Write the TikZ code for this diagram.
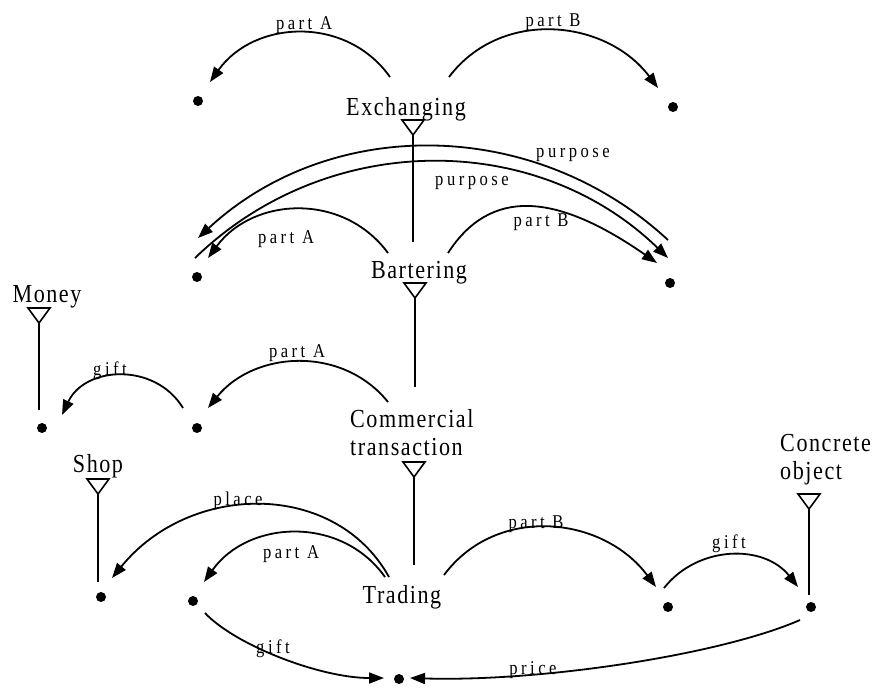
\documentclass[tikz,border=0pt]{standalone}
\usepackage{fontspec}
\setmainfont{Liberation Serif}
\newfontfamily\bigfont[LetterSpace=6,FakeStretch=0.85]{Liberation Serif}
\newfontfamily\smallfont[LetterSpace=18,FakeStretch=0.85]{Liberation Serif}
\usetikzlibrary{arrows.meta}
\begin{document}
\begin{tikzpicture}[x=1pt,y=-1pt,
  big/.style={font=\bigfont\fontsize{26}{28}\selectfont, inner sep=0pt, anchor=base},
  small/.style={font=\smallfont\fontsize{19.5}{22}\selectfont, inner sep=0pt, anchor=base},
  dot/.style={circle, fill=black, inner sep=0pt, minimum size=10pt},
  rel/.style={line width=1.8pt, -{Triangle[length=15pt,width=11pt]}},
  isa/.style={line width=1.6pt},
  tri/.style={line width=1.6pt, line join=miter},
]
\useasboundingbox (0,0) rectangle (877,688);

% concept labels
\node[big] (exch) at (406,115) {Exchanging};
\node[big] (bart) at (419,278) {Bartering};
\node[big] (money) at (47,302) {Money};
\node[big, anchor=base west, align=left] (comm) at (350,455) {Commercial\\transaction};
\node[big] (shop) at (98,472) {Shop};
\node[big] (trad) at (402,603) {Trading};
\node[big, anchor=base west, align=left] (conc) at (780,479) {Concrete\\object};

% dots
\node[dot] (d1) at (198,101) {};
\node[dot] (d2) at (673,107) {};
\node[dot] (d3) at (197,277) {};
\node[dot] (d4) at (670,283) {};
\node[dot] (d5) at (42,428) {};
\node[dot] (d6) at (197,428) {};
\node[dot] (d7) at (101,597) {};
\node[dot] (d8) at (193,601) {};
\node[dot] (d9) at (668,607) {};
\node[dot] (d10) at (811,607) {};
\node[dot] (d11) at (399,679) {};

% type hierarchy triangles and lines
\foreach \cx/\ty/\ly in {413/120/242, 415/283/387, 39/308/410, 414/462/565, 98/479/582, 809/494/595}{
  \draw[tri] (\cx-11,\ty) -- (\cx+11,\ty) -- (\cx,\ty+15) -- cycle;
  \draw[isa] (\cx,\ty+15) -- (\cx,\ly);
}

% relation arcs
\draw[rel] (390,77) .. controls (346,15) and (254,20) .. (210,82);
\node[small] (lA1) at (304,29) {part A};
\draw[rel] (449,77) .. controls (501,8) and (606,19) .. (658,88);
\node[small] (lB1) at (553,27) {part B};

\draw[rel] (668,240) .. controls (535,117) and (331,115) .. (198,238);
\node[small] (lp1) at (573,157) {purpose};
\draw[rel] (195,258) .. controls (327,130) and (536,130) .. (668,258);
\node[small] (lp2) at (472,185) {purpose};

\draw[rel] (388,253) .. controls (343,192) and (253,197) .. (208,258);
\node[small] (lA2) at (286,243) {part A};
\draw[rel] (448,253) .. controls (490,188) and (555,192) .. (657,263);
\node[small] (lB2) at (541,226) {part B};

\draw[rel] (183,408) .. controls (155,362) and (85,366) .. (62,415);
\node[small] (lg1) at (110,375) {gift};
\draw[rel] (388,402) .. controls (342,345) and (254,351) .. (208,408);
\node[small] (lA3) at (297,357) {part A};

\draw[rel] (389,577) .. controls (335,480) and (190,482) .. (112,578);
\node[small] (lpl) at (238,505) {place};
\draw[rel] (385,577) .. controls (341,515) and (248,520) .. (204,582);
\node[small] (lA4) at (291,558) {part A};
\draw[rel] (444,575) .. controls (497,504) and (603,516) .. (656,587);
\node[small] (lB4) at (536,528) {part B};
\draw[rel] (664,588) .. controls (698,545) and (764,544) .. (798,587);
\node[small] (lg2) at (729,548) {gift};

\draw[rel] (205,613) .. controls (235,645) and (320,678) .. (384,678);
\node[small] (lg3) at (273,653) {gift};
\draw[rel] (800,620) .. controls (720,655) and (540,682) .. (410,678);
\node[small] (lpr) at (533,674) {price};
\end{tikzpicture}
\end{document}
